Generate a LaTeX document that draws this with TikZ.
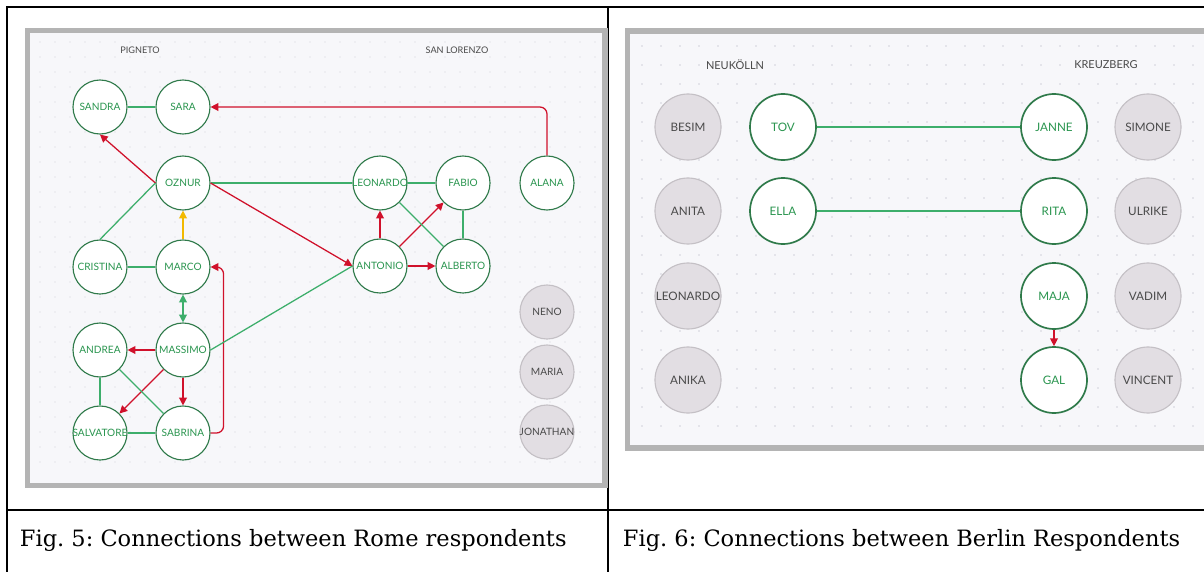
\documentclass[tikz,border=0pt]{standalone}
\usepackage{fontspec}
\setmainfont{DejaVu Serif}
\newfontfamily\latofont{Lato}
\usetikzlibrary{arrows.meta}
\frenchspacing
\definecolor{panelbg}{HTML}{F7F7FA}
\definecolor{framegray}{HTML}{B4B4B4}
\definecolor{dotgray}{HTML}{D2D2DA}
\definecolor{ringgreen}{HTML}{2F7A4A}
\definecolor{txtgreen}{HTML}{2A954F}
\definecolor{linegreen}{HTML}{3DAE6B}
\definecolor{linered}{HTML}{D0112B}
\definecolor{lineyellow}{HTML}{F2B900}
\definecolor{fillgray}{HTML}{E2DEE3}
\definecolor{ringgray}{HTML}{C4C0C5}
\definecolor{txtgray}{HTML}{4A4A4A}

\begin{document}
\begin{tikzpicture}[x=0.025cm,y=-0.025cm,
  >={Triangle[length=5.5pt,width=5.5pt]},
  person/.style={circle,draw=ringgreen,fill=white,line width=0.8pt,
    minimum size=1.35cm,inner sep=0pt,text=txtgreen,
    font=\latofont\fontsize{7.2}{8}\selectfont,
    execute at begin node=\hbox to 0pt\bgroup\hss,
    execute at end node=\hss\egroup},
  loner/.style={person,draw=ringgray,fill=fillgray,text=txtgray},
  bperson/.style={person,minimum size=1.65cm,line width=1.2pt,
    font=\latofont\fontsize{8.3}{9}\selectfont},
  bloner/.style={bperson,draw=ringgray,fill=fillgray,text=txtgray,line width=0.8pt},
  district/.style={text=txtgray,font=\latofont\fontsize{6.5}{7}\selectfont},
  tie/.style={draw=linegreen,line width=0.9pt},
  hit/.style={draw=linered,line width=0.9pt,->},
  push/.style={draw=lineyellow,line width=0.9pt,->},
  caption/.style={anchor=west,font=\fontsize{16}{19}\selectfont}
]
\useasboundingbox (0,0) rectangle (1204,572);

% table
\draw[line width=1.4pt] (7,572) -- (7,7) -- (1210,7);
\draw[line width=1.1pt] (608,7) -- (608,572);
\draw[line width=1.4pt] (7,510) -- (1210,510);
\node[caption] (cap-rome) at (15,540) {Fig. 5: Connections between Rome respondents};
\node[caption] (cap-berlin) at (618,540) {Fig. 6: Connections between Berlin Respondents};

% panels
\draw[draw=framegray,fill=panelbg,line width=3.8pt] (27.5,30.5) rectangle (605,485.5);
\draw[draw=framegray,fill=panelbg,line width=3.8pt] (627.5,31) rectangle (1215,448);
\foreach \x in {40,55,...,595}
  \foreach \y in {42,57,...,475}
    \fill[dotgray] (\x,\y) circle (0.5pt);
\foreach \x in {642,661,...,1200}
  \foreach \y in {46,65,...,440}
    \fill[dotgray] (\x,\y) circle (0.55pt);

% Rome
\node[district] (Pigneto) at (140,50) {PIGNETO};
\node[district] (SanLorenzo) at (457,50) {SAN LORENZO};

\node[person] (Sandra) at (100,107) {SANDRA};
\node[person] (Sara) at (183,107) {SARA};
\node[person] (Oznur) at (183,183) {OZNUR};
\node[person] (Cristina) at (100,267) {CRISTINA};
\node[person] (Marco) at (183,267) {MARCO};
\node[person] (Andrea) at (100,350) {ANDREA};
\node[person] (Massimo) at (183,350) {MASSIMO};
\node[person] (Salvatore) at (100,433) {SALVATORE};
\node[person] (Sabrina) at (183,433) {SABRINA};
\node[person] (Leonardo-R) at (380,183) {LEONARDO};
\node[person] (Fabio) at (463,183) {FABIO};
\node[person] (Alana) at (547,183) {ALANA};
\node[person] (Antonio) at (380,266) {ANTONIO};
\node[person] (Alberto) at (463,266) {ALBERTO};
\node[loner] (Neno) at (547,312) {NENO};
\node[loner] (Maria) at (547,372) {MARIA};
\node[loner] (Jonathan) at (547,432) {JONATHAN};

\draw[tie] (Sandra) -- (Sara);
\draw[hit,rounded corners=5pt] (Alana.north) |- (Sara.east);
\draw[hit] (Oznur.west) -- (Sandra.south);
\draw[tie] (Cristina.north) -- (Oznur.west);
\draw[push] (Marco.north) -- (Oznur.south);
\draw[tie] (Oznur.east) -- (Leonardo-R.west);
\draw[hit] (Oznur.east) -- (Antonio.west);
\draw[tie] (Cristina) -- (Marco);
\draw[tie,<->] (Marco) -- (Massimo);
\draw[hit,rounded corners=5pt] (Sabrina.east) -- ++(13,0) |- (Marco.east);
\draw[hit] (Massimo) -- (Andrea);
\draw[tie] (Massimo.east) -- (Antonio.west);
\draw[hit] (Massimo.south west) -- (Salvatore.north east);
\draw[hit] (Massimo) -- (Sabrina);
\draw[tie] (Andrea) -- (Salvatore);
\draw[tie] (Andrea.south east) -- (Sabrina.north west);
\draw[tie] (Salvatore) -- (Sabrina);
\draw[tie] (Leonardo-R) -- (Fabio);
\draw[hit] (Antonio) -- (Leonardo-R);
\draw[hit] (Antonio.north east) -- (Fabio.south west);
\draw[hit] (Antonio) -- (Alberto);
\draw[tie] (Leonardo-R.south east) -- (Alberto.north west);
\draw[tie] (Fabio) -- (Alberto);

% Berlin
\node[district,font=\latofont\fontsize{7.8}{8}\selectfont] (Neukoelln) at (735,65) {NEUKÖLLN};
\node[district,font=\latofont\fontsize{7.8}{8}\selectfont] (Kreuzberg) at (1106,65) {KREUZBERG};

\node[bloner] (Besim) at (688,127) {BESIM};
\node[bperson] (Tov) at (783,127) {TOV};
\node[bperson] (Janne) at (1054,127) {JANNE};
\node[bloner] (Simone) at (1148,127) {SIMONE};
\node[bloner] (Anita) at (688,211) {ANITA};
\node[bperson] (Ella) at (783,211) {ELLA};
\node[bperson] (Rita) at (1054,211) {RITA};
\node[bloner] (Ulrike) at (1148,211) {ULRIKE};
\node[bloner] (Leonardo-B) at (688,296) {LEONARDO};
\node[bperson] (Maja) at (1054,296) {MAJA};
\node[bloner] (Vadim) at (1148,296) {VADIM};
\node[bloner] (Anika) at (688,380) {ANIKA};
\node[bperson] (Gal) at (1054,380) {GAL};
\node[bloner] (Vincent) at (1148,380) {VINCENT};

\draw[tie,line width=1.2pt] (Tov) -- (Janne);
\draw[tie,line width=1.2pt] (Ella) -- (Rita);
\draw[hit] (Maja) -- (Gal);
\end{tikzpicture}
\end{document}
